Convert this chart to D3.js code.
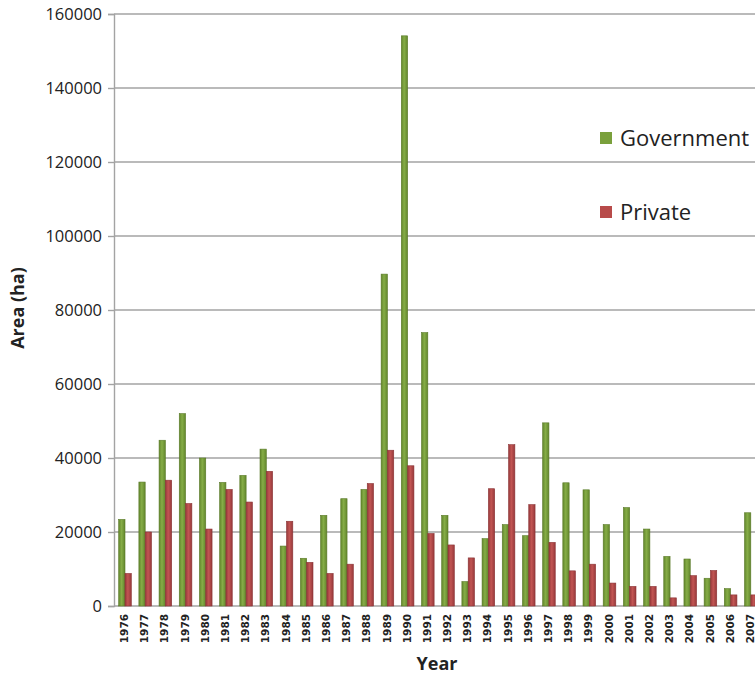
<!DOCTYPE html>
<html>
<head>
<meta charset="utf-8">
<script src="https://cdn.jsdelivr.net/npm/d3@7"></script>
<style>
  body { margin: 0; background: #fff; }
  svg { display: block; overflow: hidden; }
</style>
</head>
<body>
<div id="chart"></div>
<script>
// years on the x axis
const years = ["1976","1977","1978","1979","1980","1981","1982","1983","1984","1985",
               "1986","1987","1988","1989","1990","1991","1992","1993","1994","1995",
               "1996","1997","1998","1999","2000","2001","2002","2003","2004","2005",
               "2006","2007"];

// area in ha
const government = [23400, 33500, 44800, 52000, 40000, 33400, 35300, 42400, 16200, 12900,
                    24500, 29000, 31500, 89700, 154100, 73900, 24500, 6600, 18200, 22000,
                    19000, 49500, 33300, 31400, 22000, 26600, 20800, 13400, 12700, 7500,
                    4700, 25200];
const privateArea = [8800, 20000, 34000, 27700, 20800, 31500, 28100, 36400, 22900, 11800,
                     8800, 11300, 33100, 42100, 37900, 19600, 16500, 13000, 31700, 43600,
                     27400, 17200, 9500, 11300, 6200, 5300, 5300, 2200, 8200, 9600,
                     3000, 3000];

const yTicks = [0, 20000, 40000, 60000, 80000, 100000, 120000, 140000, 160000];
const seriesNames = ["Government", "Private"];

const width = 755, height = 675;
const margin = {top: 14, left: 114, bottom: 606, right: 760};

const svg = d3.select("#chart")
    .append("svg")
    .attr("width", width)
    .attr("height", height);

// gradients to give the bars a rounded look
const defs = svg.append("defs");
function addGrad(id, edge, mid) {
    const g = defs.append("linearGradient").attr("id", id)
        .attr("x1", "0%").attr("x2", "100%").attr("y1", "0%").attr("y2", "0%");
    g.append("stop").attr("offset", "0%").attr("stop-color", edge);
    g.append("stop").attr("offset", "45%").attr("stop-color", mid);
    g.append("stop").attr("offset", "100%").attr("stop-color", edge);
}
addGrad("gGov", "#62862c", "#86ad47");
addGrad("gPriv", "#97393b", "#c25553");

const x = d3.scaleBand()
    .domain(years)
    .range([margin.left, margin.right])
    .padding(0);

const x1 = d3.scaleBand()
    .domain(seriesNames)
    .range([0, x.bandwidth()])
    .paddingInner(0)
    .paddingOuter(0.6)
    .align(0.62);

const y = d3.scaleLinear()
    .domain([0, 160000])
    .range([margin.bottom, margin.top]);

// gridlines
svg.append("g")
    .selectAll("line")
    .data(yTicks)
    .join("line")
    .attr("x1", margin.left)
    .attr("x2", margin.right)
    .attr("y1", d => y(d))
    .attr("y2", d => y(d))
    .attr("stroke", "#a3a3a3")
    .attr("stroke-width", 1.4);

// y axis
const yAxis = svg.append("g")
    .attr("transform", `translate(${margin.left},0)`)
    .call(d3.axisLeft(y).tickValues(yTicks).tickSize(6).tickPadding(6).tickFormat(d3.format("d")));
yAxis.select(".domain").attr("stroke", "#a3a3a3").attr("stroke-width", 1.4);
yAxis.selectAll(".tick line").attr("stroke", "#a3a3a3").attr("stroke-width", 1.4);
yAxis.selectAll(".tick text")
    .attr("font-family", "Open Sans")
    .attr("font-size", 16.5)
    .attr("fill", "#222");

// bars
const data = years.map((yr, i) => ({year: yr, Government: government[i], Private: privateArea[i]}));

const groups = svg.append("g")
    .selectAll("g")
    .data(data)
    .join("g")
    .attr("transform", d => `translate(${x(d.year)},0)`);

groups.selectAll("rect")
    .data(d => seriesNames.map(k => ({key: k, value: d[k]})))
    .join("rect")
    .attr("x", d => x1(d.key))
    .attr("width", x1.bandwidth())
    .attr("y", d => y(d.value))
    .attr("height", d => y(0) - y(d.value))
    .attr("fill", d => d.key == "Government" ? "url(#gGov)" : "url(#gPriv)")
    .attr("stroke", d => d.key == "Government" ? "#5a7a28" : "#8c3436")
    .attr("stroke-width", 0.6);

// x axis labels (rotated)
svg.append("g")
    .selectAll("text")
    .data(years)
    .join("text")
    .attr("transform", d => `translate(${x(d) + x.bandwidth() / 2 + 4},${614}) rotate(-90)`)
    .attr("text-anchor", "end")
    .attr("font-family", "DejaVu Sans")
    .attr("font-weight", "bold")
    .attr("font-size", 10.5)
    .attr("fill", "#222")
    .text(d => d);

// axis titles
svg.append("text")
    .attr("x", 437)
    .attr("y", 670)
    .attr("text-anchor", "middle")
    .attr("font-family", "Open Sans")
    .attr("font-weight", "bold")
    .attr("font-size", 18)
    .attr("fill", "#222")
    .text("Year");

svg.append("text")
    .attr("transform", "translate(24,308) rotate(-90)")
    .attr("text-anchor", "middle")
    .attr("font-family", "Open Sans")
    .attr("font-weight", "bold")
    .attr("font-size", 18)
    .attr("fill", "#222")
    .text("Area (ha)");

// legend
const legend = svg.append("g")
    .selectAll("g")
    .data(seriesNames)
    .join("g")
    .attr("transform", (d, i) => `translate(600,${132 + i * 74})`);

legend.append("rect")
    .attr("width", 12)
    .attr("height", 12)
    .attr("fill", d => d == "Government" ? "#7aa03c" : "#b84b4a");

legend.append("text")
    .attr("x", 20)
    .attr("y", 14)
    .attr("font-family", "Open Sans")
    .attr("font-size", 22)
    .attr("fill", "#222")
    .text(d => d);
</script>
</body>
</html>
